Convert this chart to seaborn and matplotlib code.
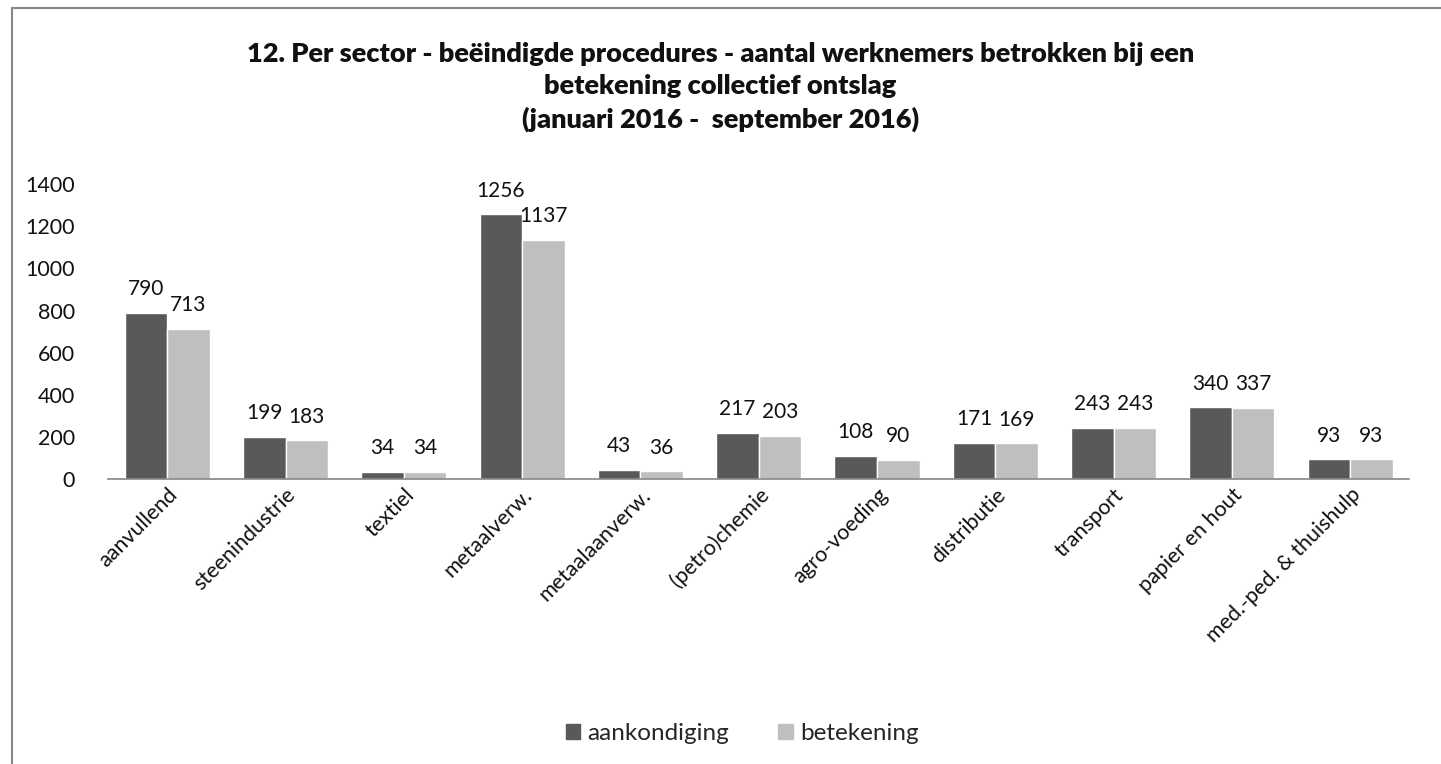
import matplotlib
matplotlib.use("Agg")
import matplotlib.pyplot as plt
import seaborn as sns
import pandas as pd
from matplotlib.lines import Line2D

categories = ["aanvullend", "steenindustrie", "textiel", "metaalverw.", "metaalaanverw.",
              "(petro)chemie", "agro-voeding", "distributie", "transport", "papier en hout",
              "med.-ped. & thuishulp"]
aankondiging = [790, 199, 34, 1256, 43, 217, 108, 171, 243, 340, 93]
betekening = [713, 183, 34, 1137, 36, 203, 90, 169, 243, 337, 93]
series_names = ["aankondiging", "betekening"]
colors = ["#595959", "#BFBFBF"]
title = ("12. Per sector - beëindigde procedures - aantal werknemers betrokken bij een\n"
         "betekening collectief ontslag\n(januari 2016 -  september 2016)")

df = pd.DataFrame({
    "sector": categories * 2,
    "waarde": aankondiging + betekening,
    "reeks": [series_names[0]] * len(categories) + [series_names[1]] * len(categories),
})

sns.set_theme(style="white")
plt.rcParams['font.family'] = ['Lato', 'DejaVu Sans']

fig = plt.figure(figsize=(14.41, 7.64), dpi=100)
ax = fig.add_axes([0.075, 0.373, 0.903, 0.386])
sns.barplot(data=df, x="sector", y="waarde", hue="reeks", palette=colors,
            width=0.72, gap=0, ax=ax, saturation=1, legend=True)

ax.set_ylim(0, 1400)
ax.set_yticks(range(0, 1401, 200))
ax.set_xlim(-0.5, len(categories) - 0.5)
ax.set_xlabel("")
ax.set_ylabel("")
for s in ["top", "right", "left"]:
    ax.spines[s].set_visible(False)
ax.spines["bottom"].set_color("#868686")
ax.spines["bottom"].set_linewidth(1.2)
ax.tick_params(axis="y", length=0, pad=24, labelsize=15.5, labelcolor="#111111")
ax.tick_params(axis="x", length=0, pad=4, labelsize=15.5, labelcolor="#111111")
plt.setp(ax.get_xticklabels(), rotation=45, ha="right", rotation_mode="anchor")

for cont in ax.containers:
    ax.bar_label(cont, labels=[f"{int(v)}" for v in cont.datavalues],
                 padding=10, fontsize=15, color="#111111")

leg = ax.get_legend()
if leg is not None:
    leg.remove()
handles = [plt.Rectangle((0, 0), 1, 1, color=c) for c in colors]
fig.legend(handles, series_names, loc="center", bbox_to_anchor=(0.515, 0.04),
           ncol=2, frameon=False, fontsize=17.5, handlelength=0.6, handleheight=0.6,
           handletextpad=0.3, columnspacing=2.0)

fig.text(0.5, 0.886, title, ha="center", va="center", fontsize=19.5, fontweight="heavy",
         linespacing=1.42, color="#111111")

# outer frame
fig.add_artist(Line2D([12 / 1441, 1.0], [1 - 8 / 764, 1 - 8 / 764], transform=fig.transFigure,
                      color="#868686", lw=1.5))
fig.add_artist(Line2D([12 / 1441, 12 / 1441], [0, 1 - 8 / 764], transform=fig.transFigure,
                      color="#868686", lw=1.5))

fig.savefig("out.png", dpi=100, facecolor="white")
